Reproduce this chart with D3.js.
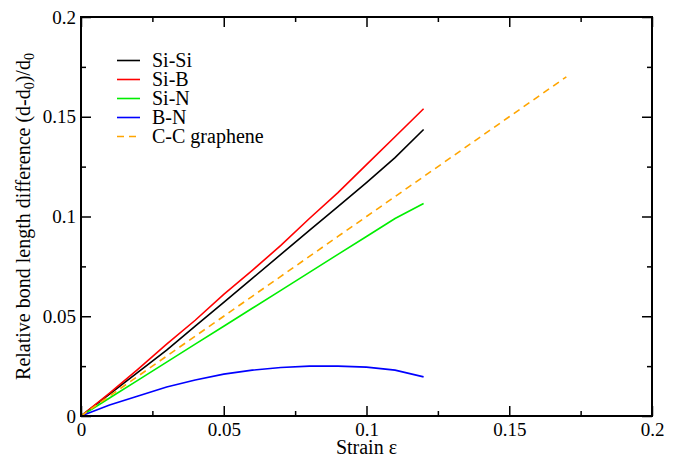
<!DOCTYPE html>
<html>
<head>
<meta charset="utf-8">
<script src="https://cdn.jsdelivr.net/npm/d3@7"></script>
</head>
<body style="margin:0">
<svg id="chart" width="684" height="457" font-family="Liberation Serif"></svg>
<script>
// ---- data ----
const strain = [0, 0.01, 0.02, 0.03, 0.04, 0.05, 0.06, 0.07, 0.08, 0.09, 0.10, 0.11, 0.12];
const siSi = [0, 0.011, 0.022, 0.033, 0.045, 0.057, 0.069, 0.081, 0.093, 0.105, 0.117, 0.1295, 0.1436];
const siB  = [0, 0.0115, 0.0235, 0.036, 0.048, 0.061, 0.073, 0.0855, 0.099, 0.112, 0.126, 0.140, 0.154];
const siN  = [0, 0.009, 0.018, 0.027, 0.036, 0.045, 0.054, 0.063, 0.072, 0.081, 0.090, 0.099, 0.1065];
const bN   = [0, 0.0055, 0.010, 0.0145, 0.018, 0.021, 0.023, 0.0243, 0.025, 0.025, 0.0245, 0.023, 0.0196];
const grapheneStrain = [0, 0.01, 0.02, 0.03, 0.04, 0.05, 0.06, 0.07, 0.08, 0.09, 0.10, 0.11, 0.12, 0.13, 0.14, 0.15, 0.16, 0.17];
const grapheneVals   = [0, 0.01, 0.02, 0.03, 0.04, 0.05, 0.06, 0.07, 0.08, 0.09, 0.10, 0.11, 0.12, 0.13, 0.14, 0.15, 0.16, 0.17];
const seriesNames = ["Si-Si", "Si-B", "Si-N", "B-N", "C-C graphene"];
const xMajorTicks = [0, 0.05, 0.1, 0.15, 0.2];
const xTickLabels = ["0", "0.05", "0.1", "0.15", "0.2"];
const yMajorTicks = [0, 0.05, 0.1, 0.15, 0.2];
const yTickLabels = ["0", "0.05", "0.1", "0.15", "0.2"];
const minorTicks = [0.025, 0.075, 0.125, 0.175];

// ---- layout ----
const FONT = '"Liberation Serif"';
const svg = d3.select("#chart");
svg.append("rect").attr("width", 684).attr("height", 457).attr("fill", "#fff");
const L = 81, R = 652, T = 17, B = 416;
const x = d3.scaleLinear().domain([0, 0.2]).range([L, R]);
const y = d3.scaleLinear().domain([0, 0.2]).range([B, T]);

const series = [
  { name: seriesNames[0], xs: strain, ys: siSi, color: "#000000", dash: null },
  { name: seriesNames[1], xs: strain, ys: siB,  color: "#ff0000", dash: null },
  { name: seriesNames[2], xs: strain, ys: siN,  color: "#00ee00", dash: null },
  { name: seriesNames[3], xs: strain, ys: bN,   color: "#0000ff", dash: null },
  { name: seriesNames[4], xs: grapheneStrain, ys: grapheneVals, color: "#ffa500", dash: "7,5" }
];

const line = d3.line().x(d => x(d[0])).y(d => y(d[1]));

// data lines
const gLines = svg.append("g");
series.forEach(s => {
  gLines.append("path")
    .datum(s.xs.map((v, i) => [v, s.ys[i]]))
    .attr("d", line)
    .attr("fill", "none")
    .attr("stroke", s.color)
    .attr("stroke-width", 1.6)
    .attr("stroke-dasharray", s.dash);
});

// axes
const fmtX = d => xTickLabels[xMajorTicks.indexOf(d)];
const fmtY = d => yTickLabels[yMajorTicks.indexOf(d)];

function styleAxis(g) {
  g.attr("font-family", "Liberation Serif").attr("font-size", null);
  g.select(".domain").remove();
  g.selectAll(".tick line").attr("stroke", "#000").attr("stroke-width", 1.5);
  g.selectAll("text").style("font-family", FONT).style("font-size", "19px").attr("fill", "#000");
}

// bottom
svg.append("g").attr("transform", `translate(0,${B})`)
  .call(d3.axisBottom(x).tickValues(xMajorTicks).tickFormat(fmtX).tickSizeInner(-10).tickSizeOuter(0).tickPadding(7))
  .call(styleAxis);
svg.append("g").attr("transform", `translate(0,${B})`)
  .call(d3.axisBottom(x).tickValues(minorTicks).tickFormat("").tickSizeInner(-5).tickSizeOuter(0))
  .call(styleAxis);
// top
svg.append("g").attr("transform", `translate(0,${T})`)
  .call(d3.axisTop(x).tickValues(xMajorTicks).tickFormat("").tickSizeInner(-10).tickSizeOuter(0))
  .call(styleAxis);
svg.append("g").attr("transform", `translate(0,${T})`)
  .call(d3.axisTop(x).tickValues(minorTicks).tickFormat("").tickSizeInner(-5).tickSizeOuter(0))
  .call(styleAxis);
// left
svg.append("g").attr("transform", `translate(${L},0)`)
  .call(d3.axisLeft(y).tickValues(yMajorTicks).tickFormat(fmtY).tickSizeInner(-10).tickSizeOuter(0).tickPadding(5))
  .call(styleAxis);
svg.append("g").attr("transform", `translate(${L},0)`)
  .call(d3.axisLeft(y).tickValues(minorTicks).tickFormat("").tickSizeInner(-5).tickSizeOuter(0))
  .call(styleAxis);
// right
svg.append("g").attr("transform", `translate(${R},0)`)
  .call(d3.axisRight(y).tickValues(yMajorTicks).tickFormat("").tickSizeInner(-10).tickSizeOuter(0))
  .call(styleAxis);
svg.append("g").attr("transform", `translate(${R},0)`)
  .call(d3.axisRight(y).tickValues(minorTicks).tickFormat("").tickSizeInner(-5).tickSizeOuter(0))
  .call(styleAxis);

// frame
svg.append("rect")
  .attr("x", L).attr("y", T).attr("width", R - L).attr("height", B - T)
  .attr("fill", "none").attr("stroke", "#000").attr("stroke-width", 2);

// axis titles
svg.append("text")
  .attr("x", (L + R) / 2).attr("y", 454)
  .attr("text-anchor", "middle")
  .style("font-family", FONT)
  .style("font-size", "20px")
  .text("Strain ε");

const yt = svg.append("text")
  .attr("transform", `translate(30,${(T + B) / 2}) rotate(-90)`)
  .attr("text-anchor", "middle")
  .style("font-family", FONT)
  .style("font-size", "20px");
yt.append("tspan").text("Relative bond length difference (d-d");
yt.append("tspan").attr("baseline-shift", "-30%").style("font-size", "14px").text("0");
yt.append("tspan").text(")/d");
yt.append("tspan").attr("baseline-shift", "-30%").style("font-size", "14px").text("0");

// legend
const legend = svg.append("g");
series.forEach((s, i) => {
  const ly = 60.5 + i * 19;
  legend.append("line")
    .attr("x1", 117).attr("x2", 140).attr("y1", ly).attr("y2", ly)
    .attr("stroke", s.color).attr("stroke-width", 1.6)
    .attr("stroke-dasharray", s.dash ? "7,5" : null);
  legend.append("text")
    .attr("x", 152).attr("y", ly).attr("dy", "0.33em")
    .style("font-family", FONT)
    .style("font-size", "20px")
    .text(s.name);
});
</script>
</body>
</html>
